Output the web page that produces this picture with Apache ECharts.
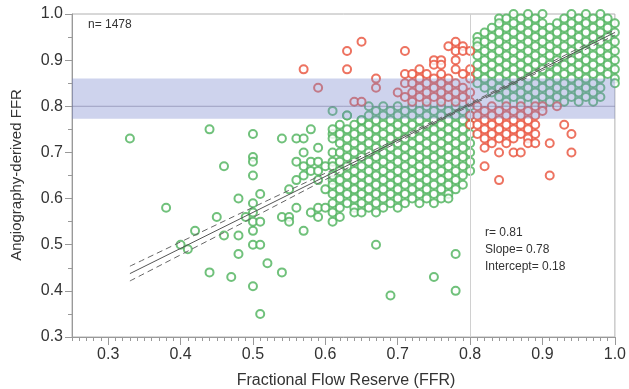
<!DOCTYPE html>
<html>
<head>
<meta charset="utf-8">
<script src="https://cdn.jsdelivr.net/npm/echarts@6/dist/echarts.min.js"></script>
<style>
html,body{margin:0;padding:0;background:#fff;}
#chart{width:629px;height:389px;}
</style>
</head>
<body>
<div id="chart"></div>
<script>
// ---- data (values in hundredths) ----
const xTickValues = [0.3, 0.4, 0.5, 0.6, 0.7, 0.8, 0.9, 1.0];
const nText = 'n= 1478';
const statsLines = ['r= 0.81', 'Slope= 0.78', 'Intercept= 0.18'];
const slope = 0.78;
const intercept = 0.18;
const fitRange = [0.33, 1.0];
const ciX = [0.33, 0.40, 0.50, 0.60, 0.70, 0.80, 0.90, 1.00];
const ciHalf = [0.016, 0.014, 0.011, 0.007, 0.004, 0.003, 0.004, 0.006];
const bandRange = [0.773, 0.86];
const cutoff = 0.8;
const xRange = [0.25, 1.0];

const greenSparse = [[33,73],[38,58],[40,50],[41,49],[42,53],[44,75],[44,44],[45,56],[46,67],[46,52],
  [47,43],[48,60],[48,52],[48,48],[49,56],[50,74],[50,69],[50,68],[50,65],[50,59],[50,57],[50,55],
  [50,53],[50,50],[50,41],[51,61],[51,55],[51,50],[51,35],[52,46],[54,73],[54,56],[54,44],[55,62],
  [55,56],[55,55],[56,73],[56,68],[56,64],[56,58],[57,73],[57,70],[57,67],[57,65],[57,53],[58,75],
  [58,68],[58,66],[58,57],[59,71],[59,68],[59,66],[59,64],[59,58],[59,56],[60,67],[60,58],[60,62],
  [61,74],[61,70],[61,68],[61,64],[61,55],[63,78],[65,77],[67,50],[78,48],[75,43],[78,40],[69,39]];

const greenCloudRows = [
  [80,[66,68,70,72,74,76,78,80]],
  [79,[61,67,69,71,73,75,77,79]],
  [78,[63,66,68,70,72,74,76,78,80]],
  [77,[65,67,69,71,73,75,77,79]],
  [76,[62,64,66,68,70,72,74,76,78,80]],
  [75,[61,63,65,67,69,71,73,75,77,79]],
  [74,[62,64,66,68,70,72,74,76,78,80]],
  [73,[61,63,65,67,69,71,73,75,77,79]],
  [72,[62,64,66,68,70,72,74,76,78,80]],
  [71,[63,65,67,69,71,73,75,77,79]],
  [70,[62,64,66,68,70,72,74,76,78,80]],
  [69,[63,65,67,69,71,73,75,77,79]],
  [68,[62,64,66,68,70,72,74,76,78,80]],
  [67,[61,63,65,67,69,71,73,75,77,79]],
  [66,[62,64,66,68,70,72,74,76,78,80]],
  [65,[61,63,65,67,69,71,73,75,77,79]],
  [64,[62,64,66,68,70,72,74,76,78]],
  [63,[61,63,65,67,69,71,73,75,77,79]],
  [62,[62,64,66,68,70,72,74,76,78]],
  [61,[61,63,65,67,69,71,73,75,77]],
  [60,[62,64,66,68,70,72,74,76,77]],
  [59,[61,63,65,67,69,71,73,75]],
  [58,[62,64,66,68,70]],
  [57,[61,64,65,67]],
  [56,[62]]
];

const greenUpperRows = [
  [100,[86,88,90,94,96,98]],
  [99,[84,85,87,89,93,95,97,99]],
  [98,[84,86,88,90,92,94,96,98,100]],
  [97,[83,85,87,89,91,93,95,97,99]],
  [96,[82,84,86,88,90,92,94,96,98,100]],
  [95,[81,83,85,87,89,91,93,95,97,99]],
  [94,[81,82,84,86,88,90,92,94,96,98,100]],
  [93,[81,83,85,87,89,91,93,95,97,99]],
  [92,[82,84,86,88,90,92,94,96,98,100]],
  [91,[81,83,85,87,89,91,93,95,97,99]],
  [90,[82,84,86,88,90,92,94,96,98,100]],
  [89,[81,83,85,87,89,91,93,95,97,99]],
  [88,[82,84,86,88,90,92,94,96,98,100]],
  [87,[81,83,85,87,89,91,93,95,97,99]],
  [86,[82,84,86,88,90,92,94,96,98,100]],
  [85,[81,83,85,87,89,91,93,95,97,100]],
  [84,[82,84,86,88,90,92,94,96,98]],
  [83,[83,85,87,89,91,93,95,97]],
  [82,[84,86,88,90,92,94,96,98]],
  [81,[85,87,89,91,93,95,97]]
];

const redUpperSparse = [[57,88],[59,84],[63,92],[63,88],[65,94],[64,81],[65,81],[67,86],[67,84],[71,92]];

const redUpperRows = [
  [94,[78]],
  [93,[77,79]],
  [92,[78,79,80]],
  [90,[75,76,78]],
  [89,[75,76]],
  [88,[73,78,80]],
  [87,[71,72,74,76,79]],
  [86,[73,75,77,80]],
  [85,[71,72,74,76,78]],
  [84,[73,75,77,79]],
  [83,[70,72,74,76,78,80]],
  [82,[71,73,75,77,79]],
  [81,[72,74,76,78,80]]
];

const redLowerRows = [
  [80,[81,83,85,87,89,90,92]],
  [79,[82,84,86,88,90]],
  [78,[80,81,83,85,87,89]],
  [77,[82,84,86,88]],
  [76,[80,81,83,85,87,89,93]],
  [75,[82,84,86,88]],
  [74,[81,83,85,87,89,94]],
  [73,[82,84,86,88]],
  [72,[83,85,88,89,91]],
  [71,[82]],
  [70,[84,86,87,94]],
  [67,[82]],
  [65,[91]],
  [64,[84]]
];

// ---- build ----
function rowsToPoints(rows){
  const out = [];
  rows.forEach(r => r[1].forEach(x => out.push([x/100, r[0]/100])));
  return out;
}
function pairsToPoints(p){ return p.map(d => [d[0]/100, d[1]/100]); }

const greenData = pairsToPoints(greenSparse).concat(rowsToPoints(greenCloudRows), rowsToPoints(greenUpperRows));
const redData = pairsToPoints(redUpperSparse).concat(rowsToPoints(redUpperRows), rowsToPoints(redLowerRows));

const fitData = fitRange.map(x => [x, intercept + slope*x]);
const ciUpper = ciX.map((x,i) => [x, intercept + slope*x + ciHalf[i]]);
const ciLower = ciX.map((x,i) => [x, intercept + slope*x - ciHalf[i]]);

const FONT = 'Liberation Sans, Arial, Helvetica, sans-serif';
const GREEN = '#4cb15a';
const RED = '#e9503a';

const chart = echarts.init(document.getElementById('chart'), null, {renderer:'canvas'});
chart.setOption({
  animation: false,
  backgroundColor: '#fff',
  grid: {left:72, top:14, width:548, height:323, show:true, borderColor:'#b0b0b0', borderWidth:1, containLabel:false},
  xAxis: [
    {type:'value', min:xRange[0], max:xRange[1], interval:0.01,
     axisLine:{show:true, onZero:false, lineStyle:{color:'#999', width:1}},
     axisTick:{show:true, length:4, lineStyle:{color:'#999'}},
     axisLabel:{show:false}, splitLine:{show:false}},
    {type:'value', min:xRange[0], max:xRange[1], position:'bottom', gridIndex:0,
     axisLine:{show:false, onZero:false},
     axisTick:{show:true, length:8, customValues:xTickValues, lineStyle:{color:'#999'}},
     axisLabel:{show:true, customValues:xTickValues, formatter: v => v.toFixed(1), fontSize:16, color:'#333', margin:10, fontFamily:FONT},
     splitLine:{show:false}}
  ],
  yAxis: {type:'value', min:0.3, max:1.0, interval:0.1,
    axisLine:{show:true, onZero:false, lineStyle:{color:'#999', width:1}},
    axisTick:{show:true, length:7, lineStyle:{color:'#999'}},
    minorTick:{show:true, splitNumber:2, length:4, lineStyle:{color:'#999'}},
    axisLabel:{formatter: v => v.toFixed(1), fontSize:16, color:'#333', margin:9, fontFamily:FONT},
    splitLine:{show:false}, minorSplitLine:{show:false}},
  graphic: [
    {type:'text', left:88, top:19, style:{text:nText, fontSize:12, fill:'#333', fontFamily:FONT}},
    {type:'text', x:485, y:232.7, style:{text:statsLines[0], fontSize:12, fill:'#333', fontFamily:FONT, textVerticalAlign:'middle'}},
    {type:'text', x:485, y:250, style:{text:statsLines[1], fontSize:12, fill:'#333', fontFamily:FONT, textVerticalAlign:'middle'}},
    {type:'text', x:485, y:266.7, style:{text:statsLines[2], fontSize:12, fill:'#333', fontFamily:FONT, textVerticalAlign:'middle'}},
    {type:'text', x:17, y:175, rotation:Math.PI/2, style:{text:'Angiography-derived FFR', fontSize:15, fill:'#333', fontFamily:FONT, textAlign:'center', textVerticalAlign:'middle'}},
    {type:'text', x:346, y:381, style:{text:'Fractional Flow Reserve (FFR)', fontSize:16, fill:'#333', fontFamily:FONT, textAlign:'center', textVerticalAlign:'middle'}}
  ],
  series: [
    {type:'line', data:[], z:1, silent:true,
     markLine:{silent:true, symbol:'none', label:{show:false}, animation:false,
       lineStyle:{color:'#d0d0d0', width:1, type:'solid'}, data:[{xAxis:cutoff}]}},
    {type:'scatter', name:'green', data:greenData, symbol:'circle', symbolSize:8, clip:false, z:2,
     itemStyle:{color:'#fff', borderColor:GREEN, borderWidth:2}},
    {type:'scatter', name:'red', data:redData, symbol:'circle', symbolSize:8, clip:false, z:2,
     itemStyle:{color:'#fff', borderColor:RED, borderWidth:2}},
    {type:'custom', z:5, silent:true, data:[[bandRange[0], bandRange[1]]],
     renderItem: function(params, api){
       const p0 = api.coord([xRange[0], api.value(1)]);
       const p1 = api.coord([xRange[1], api.value(0)]);
       const l0 = api.coord([xRange[0], cutoff]);
       const l1 = api.coord([xRange[1], cutoff]);
       return {type:'group', children:[
         {type:'rect', shape:{x:p0[0], y:p0[1], width:p1[0]-p0[0], height:p1[1]-p0[1]},
          style:{fill:'rgba(118,132,206,0.36)'}},
         {type:'line', shape:{x1:l0[0], y1:l0[1], x2:l1[0], y2:l1[1]},
          style:{stroke:'rgba(110,110,150,0.5)', lineWidth:1}}
       ]};
     }},
    {type:'line', data:fitData, symbol:'none', z:6, silent:true, lineStyle:{color:'#555', width:1}},
    {type:'line', data:ciUpper, symbol:'none', smooth:true, z:6, silent:true, lineStyle:{color:'#666', width:1, type:[6,4]}},
    {type:'line', data:ciLower, symbol:'none', smooth:true, z:6, silent:true, lineStyle:{color:'#666', width:1, type:[6,4]}}
  ]
});
</script>
</body>
</html>
